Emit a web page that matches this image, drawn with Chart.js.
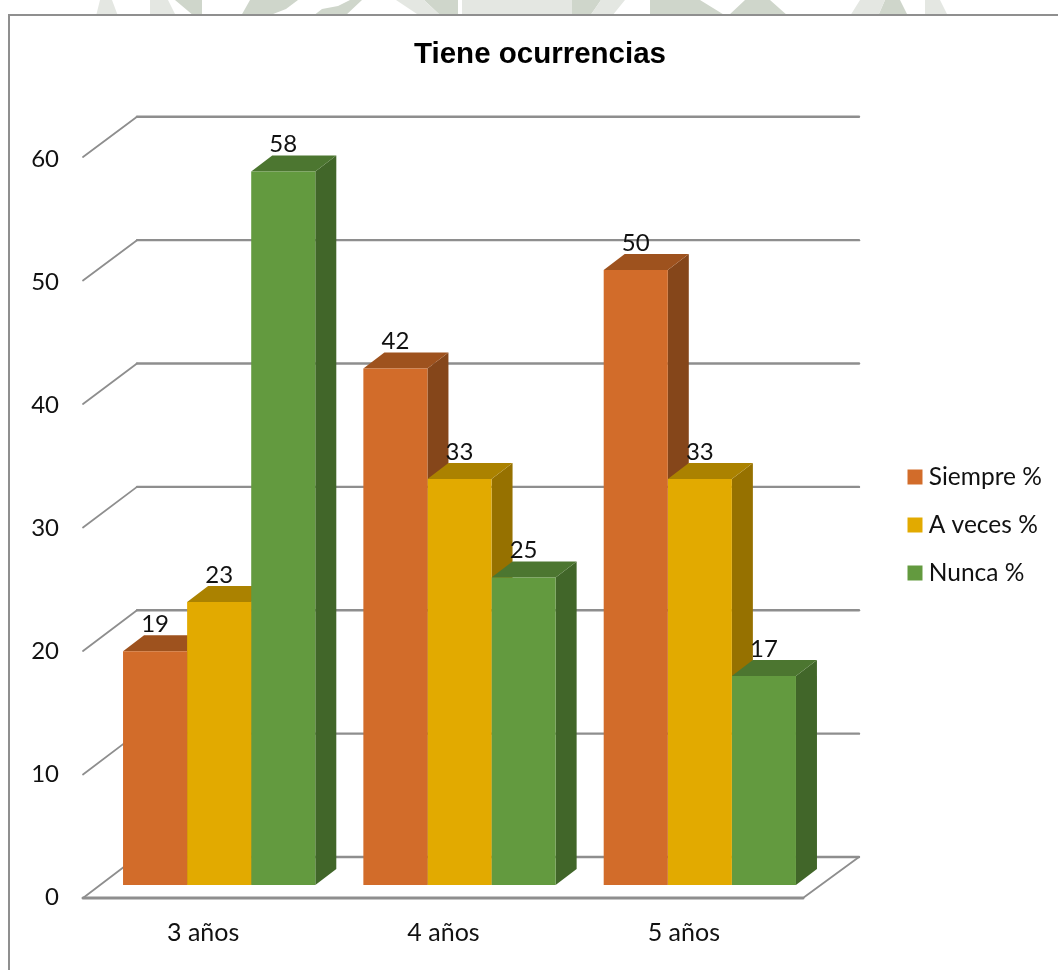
<!DOCTYPE html>
<html lang="es">
<head>
<meta charset="utf-8">
<title>Tiene ocurrencias</title>
<script src="https://cdn.jsdelivr.net/npm/chart.js@4"></script>
<style>
  html, body { margin: 0; padding: 0; width: 1058px; height: 970px; overflow: hidden; background: #fff; }
  #crest { position: absolute; left: 0; top: 0; filter: blur(0.6px); }
  #frame { position: absolute; left: 8px; top: 14px; width: 1100px; height: 1000px; box-sizing: border-box;
           border-left: 2px solid #8f8f8f; border-top: 2px solid #8f8f8f; background: #fff; }
  #chart { position: absolute; left: 0; top: 0; }
</style>
</head>
<body>
<!-- pale page emblem peeking above the chart frame -->
<svg id="crest" width="1058" height="16" viewBox="0 0 1058 16">
  <g fill="#cfd6cb">
    <polygon points="175,0 202,0 202,16 194,16"/>
    <polygon points="241,16 250,0 298,0 286,9 268,16"/>
    <polygon points="313,16 322,9 338,6 350,0 362,0 345,16"/>
    <polygon points="424,0 458,0 458,16 441,16"/>
    <polygon points="572,16 572,0 601,0 590,16"/>
    <polygon points="650,0 700,0 726,16 650,16"/>
    <polygon points="728,16 745,0 770,0 788,16"/>
    <polygon points="885,0 900,0 908,16 878,16"/>
  </g>
  <g fill="#e4e7e2">
    <polygon points="150,0 168,0 176,16 150,16"/>
    <polygon points="396,0 424,0 441,16 420,16"/>
    <rect x="462" y="0" width="110" height="16"/>
    <polygon points="601,0 625,0 612,16 590,16"/>
    <polygon points="860,0 885,0 878,16 850,16"/>
    <polygon points="100,0 112,0 118,16 96,16"/>
    <polygon points="925,0 940,0 948,16 925,16"/>
  </g>
</svg>
<div id="frame"></div>
<canvas id="chart" width="1080" height="970"></canvas>
<script>
const categories = ['3 años', '4 años', '5 años'];
const siempre = [19, 42, 50];
const aVeces = [23, 33, 33];
const nunca = [58, 25, 17];
const seriesNames = ['Siempre %', 'A veces %', 'Nunca %'];
const yTicks = [0, 10, 20, 30, 40, 50, 60];

const frontColors = ['#D26C2A', '#E2AA00', '#639A3F'];
const topColors = ['#9E521E', '#AB8200', '#4C7630'];
const sideColors = ['#85461A', '#967100', '#416629'];

const LABEL_FONT = 'Lato, "Open Sans", sans-serif';
const GRID_COLOR = '#8e8e8e';
const BAR_DEPTH = { x: 21, y: 16 };
const WALL = { front: 13, back: 28, left: 16, right: 39, backStretch: 1.003, frontStretch: 1.004 };

function poly(ctx, pts, fill) {
  ctx.beginPath();
  pts.forEach((p, i) => (i ? ctx.lineTo(p[0], p[1]) : ctx.moveTo(p[0], p[1])));
  ctx.closePath();
  ctx.fillStyle = fill;
  ctx.fill();
}

// Perspective walls, floor and the top and side faces of each column
const depthPlugin = {
  id: 'depth',
  afterLayout(chart) {
    // title centres on the whole canvas, legend sits right of its reserved slot
    const tb = chart.titleBlock;
    tb.left = 0;
    tb.right = chart.width;
    const l = chart.legend;
    l.left = 890;
    l.right = 1080;
    const h = l.bottom - l.top;
    l.top = 525 - h / 2;
    l.bottom = l.top + h;
  },
  beforeDatasetsDraw(chart) {
    const { ctx, chartArea: a, scales: { y } } = chart;
    const x0 = a.left - WALL.left;
    const x1 = x0 + 54;
    const xEnd = a.right + WALL.right;
    const p0 = y.getPixelForValue(0);
    ctx.save();
    ctx.strokeStyle = GRID_COLOR;
    ctx.lineCap = 'round';
    yTicks.forEach(v => {
      const rise = p0 - y.getPixelForValue(v);
      const back = p0 - WALL.back - rise * WALL.backStretch;
      const front = p0 + WALL.front - rise * WALL.frontStretch;
      ctx.lineWidth = 1.8;
      ctx.beginPath();
      ctx.moveTo(x0, front);
      ctx.lineTo(x1, back);
      ctx.stroke();
      ctx.lineWidth = 2.4;
      ctx.beginPath();
      ctx.moveTo(x1, back);
      ctx.lineTo(xEnd, back);
      ctx.stroke();
    });
    // floor front edge and right edge
    ctx.lineWidth = 3;
    ctx.beginPath();
    ctx.moveTo(x0, p0 + WALL.front);
    ctx.lineTo(xEnd - 56, p0 + WALL.front);
    ctx.stroke();
    ctx.lineWidth = 1.8;
    ctx.beginPath();
    ctx.moveTo(xEnd - 56, p0 + WALL.front);
    ctx.lineTo(xEnd, p0 - WALL.back);
    ctx.stroke();

    categories.forEach((_, i) => {
      chart.data.datasets.forEach((ds, d) => {
        const bar = chart.getDatasetMeta(d).data[i];
        const l = bar.x - bar.width / 2;
        const r = bar.x + bar.width / 2;
        const t = bar.y;
        const b = bar.base;
        const dx = BAR_DEPTH.x;
        const dy = BAR_DEPTH.y;
        poly(ctx, [[r, t], [r + dx, t - dy], [r + dx, b - dy], [r, b]], sideColors[d]);
        poly(ctx, [[l, t], [l + dx, t - dy], [r + dx, t - dy], [r, t]], topColors[d]);
      });
    });
    ctx.restore();
  },
  afterDatasetsDraw(chart) {
    const { ctx } = chart;
    ctx.save();
    ctx.font = '24px ' + LABEL_FONT;
    ctx.fillStyle = '#111';
    ctx.textAlign = 'center';
    ctx.textBaseline = 'middle';
    chart.data.datasets.forEach((ds, d) => {
      chart.getDatasetMeta(d).data.forEach((bar, i) => {
        ctx.fillText(String(ds.data[i]), bar.x, bar.y - 27);
      });
    });
    ctx.restore();
  }
};

new Chart(document.getElementById('chart'), {
  type: 'bar',
  data: {
    labels: categories,
    datasets: [
      { label: seriesNames[0], data: siempre, backgroundColor: frontColors[0] },
      { label: seriesNames[1], data: aVeces, backgroundColor: frontColors[1] },
      { label: seriesNames[2], data: nunca, backgroundColor: frontColors[2] }
    ]
  },
  plugins: [depthPlugin],
  options: {
    responsive: false,
    animation: false,
    events: [],
    layout: { padding: { left: 0, right: 160, top: 14, bottom: 0 } },
    datasets: { bar: { categoryPercentage: 0.8, barPercentage: 1, borderWidth: 0 } },
    scales: {
      x: {
        grid: { display: false, drawTicks: false },
        border: { display: false },
        ticks: { color: '#111', font: { family: LABEL_FONT, size: 25 }, labelOffset: -16, padding: 33, maxRotation: 0 },
        afterFit: s => { s.height = 85; }
      },
      y: {
        min: 0,
        max: 60,
        afterBuildTicks: s => { s.ticks = yTicks.map(value => ({ value })); },
        grid: { display: false, drawTicks: false },
        border: { display: false },
        ticks: { color: '#111', font: { family: LABEL_FONT, size: 24 }, labelOffset: 12.5, padding: 40 },
        afterFit: s => { s.width = 99; }
      }
    },
    plugins: {
      title: {
        display: true,
        text: 'Tiene ocurrencias',
        color: '#000',
        font: { family: '"Liberation Sans", Arial, sans-serif', size: 29.5, weight: 'bold', lineHeight: 1.2 },
        padding: { top: 23.3, bottom: 74.3 }
      },
      legend: {
        position: 'right',
        maxWidth: 100,
        labels: {
          usePointStyle: true,
          pointStyle: 'rect',
          boxWidth: 3,
          boxHeight: 15,
          padding: 23.5,
          color: '#111',
          font: { family: LABEL_FONT, size: 24.5 }
        }
      },
      tooltip: { enabled: false }
    }
  }
});
</script>
</body>
</html>
